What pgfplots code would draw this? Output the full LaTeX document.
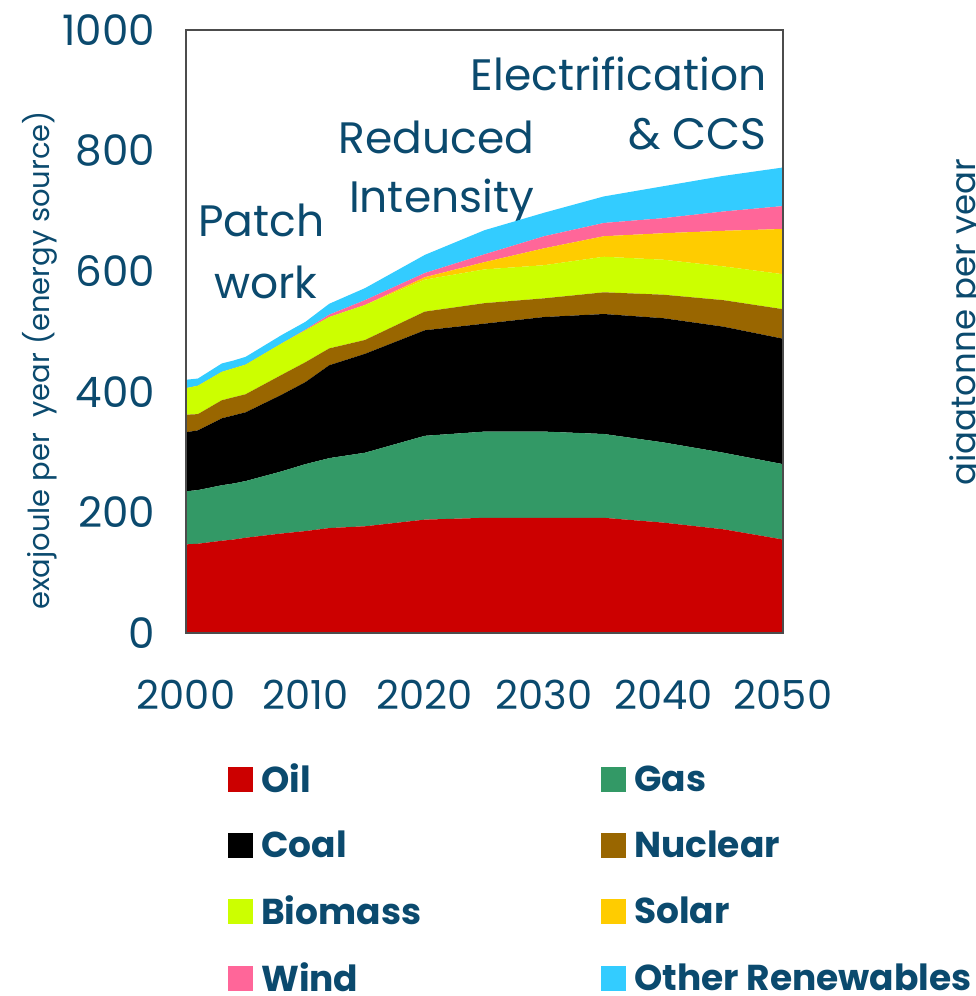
\documentclass[border=0pt]{standalone}
\usepackage{fontspec}
\setmainfont{Poppins}
\usepackage{pgfplots}
\usepackage{pgfplotstable}
\pgfplotsset{compat=1.18}

\definecolor{txt}{HTML}{0B4A6E}
\definecolor{oilc}{HTML}{CC0000}
\definecolor{gasc}{HTML}{339966}
\definecolor{coalc}{HTML}{000000}
\definecolor{nucc}{HTML}{996600}
\definecolor{bioc}{HTML}{CCFF00}
\definecolor{solc}{HTML}{FFCC00}
\definecolor{windc}{HTML}{FF6699}
\definecolor{othc}{HTML}{33CCFF}
\tikzset{ann/.style={text=txt, font=\fontsize{22}{22}\selectfont}}

% exajoule per year, by source
\pgfplotstableread{
year oil gas coal nuclear biomass solar wind other
2000 147 88 98 29 44 0 0 14
2001 148 89 99 27 47 0 0 12
2003 153 92 111 30 47 0 0 14
2004 155 93 113 30 48 0 0 13
2005 158 94 114 30 49 0 0 13
2008 165 103 127 33 52 0 0 14
2010 169 111 136 33 53 0 1 13
2012 174 116 154 28 52 0 4 18
2015 177 122 164 23 58 0 8 20
2020 188 139 175 31 53 4 7 30
2025 191 143 179 34 56 12 13 40
2030 191 143 190 31 55 28 20 39
2035 191 139 199 36 59 34 22 44
2040 183 133 206 39 58 44 25 53
2045 172 127 209 44 56 59 32 59
2050 155 125 208 49 58 75 38 64
}\energydata

\begin{document}
\begin{tikzpicture}
\begin{axis}[
  name=ax,
  width=298.5pt, height=301.5pt, scale only axis,
  xmin=2000, xmax=2050, ymin=0, ymax=1000,
  stack plots=y,
  axis on top,
  clip=false,
  xtick={2000,2010,...,2050},
  ytick={0,200,...,1000},
  major tick length=0pt,
  axis line style={black!70, line width=0.6pt},
  tick label style={font=\fontsize{21}{21}\selectfont, text=txt},
  /pgf/number format/assume math mode=true,
  /pgf/number format/1000 sep={},
  xticklabel style={yshift=-20pt, font=\fontsize{20}{20}\selectfont},
  yticklabel style={xshift=-12pt},
  legend columns=2,
  legend cell align=left,
  legend image code/.code={\fill[#1] (0pt,-6.25pt) rectangle (12.5pt,6.25pt);},
  legend style={
    at={(0.07,-0.21)}, anchor=north west,
    draw=none, fill=none, inner sep=0pt,
    font=\bfseries\fontsize{18}{18}\selectfont, text=txt,
    row sep=13.5pt,
    /tikz/every odd column/.append style={column sep=2pt},
    /tikz/every even column/.append style={column sep=88pt},
  },
]
\addplot[fill=oilc, draw=none] table[x=year, y=oil] {\energydata} \closedcycle;
\addlegendentry{Oil}
\addplot[fill=gasc, draw=none] table[x=year, y=gas] {\energydata} \closedcycle;
\addlegendentry{Gas}
\addplot[fill=coalc, draw=none] table[x=year, y=coal] {\energydata} \closedcycle;
\addlegendentry{Coal}
\addplot[fill=nucc, draw=none] table[x=year, y=nuclear] {\energydata} \closedcycle;
\addlegendentry{Nuclear}
\addplot[fill=bioc, draw=none] table[x=year, y=biomass] {\energydata} \closedcycle;
\addlegendentry{Biomass}
\addplot[fill=solc, draw=none] table[x=year, y=solar] {\energydata} \closedcycle;
\addlegendentry{Solar}
\addplot[fill=windc, draw=none] table[x=year, y=wind] {\energydata} \closedcycle;
\addlegendentry{Wind}
\addplot[fill=othc, draw=none] table[x=year, y=other] {\energydata} \closedcycle;
\addlegendentry{Other Renewables}

\node[ann, anchor=base] at (axis cs:2006.3,657) {Patch};
\node[ann, anchor=base] at (axis cs:2006.7,555) {work};
\node[ann, anchor=base] at (axis cs:2021.0,796) {Reduced};
\node[ann, anchor=base] at (axis cs:2021.4,697) {Intensity};
\node[ann, anchor=base east] at (axis cs:2049.2,900) {Electrification};
\node[ann, anchor=base east] at (axis cs:2049.2,801) {\& CCS};
\node[anchor=base, rotate=90, text=txt, font=\fontsize{14.5}{14.5}\selectfont]
  at (axis cs:1988.6,452) {exajoule per\ \ year (energy source)};
\node[anchor=base, rotate=90, text=txt, font=\fontsize{17}{17}\selectfont]
  at (axis cs:2066.1,515) {gigatonne per year};
\end{axis}
\pgfresetboundingbox
\path[use as bounding box] ([xshift=-93pt,yshift=-181.5pt]ax.south west)
  rectangle ([xshift=96pt,yshift=15pt]ax.north east);
\end{tikzpicture}
\end{document}
